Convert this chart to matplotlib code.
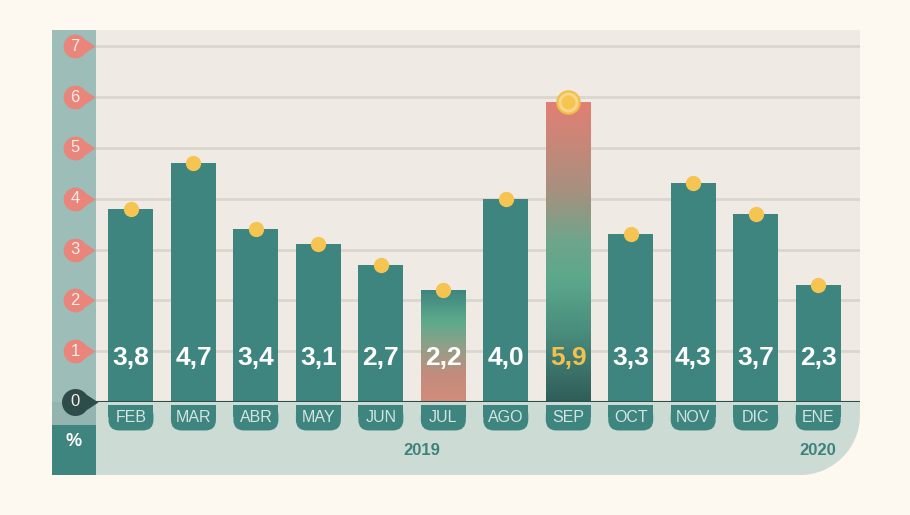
import matplotlib.pyplot as plt
import numpy as np
from matplotlib.path import Path
from matplotlib.patches import PathPatch, Rectangle, FancyBboxPatch
from matplotlib.colors import LinearSegmentedColormap
import matplotlib.transforms as mtransforms

plt.rcParams['font.family'] = ['Liberation Sans', 'DejaVu Sans']

months = ['FEB', 'MAR', 'ABR', 'MAY', 'JUN', 'JUL', 'AGO', 'SEP', 'OCT', 'NOV', 'DIC', 'ENE']
values = [3.8, 4.7, 3.4, 3.1, 2.7, 2.2, 4.0, 5.9, 3.3, 4.3, 3.7, 2.3]
value_labels = ['3,8', '4,7', '3,4', '3,1', '2,7', '2,2', '4,0', '5,9', '3,3', '4,3', '3,7', '2,3']
yticks = [0, 1, 2, 3, 4, 5, 6, 7]
years = ['2019', '2020']

W, H = 910, 515
teal = '#3E8580'
gold = '#F5C451'
salmon = '#E9857A'
panel = '#EFEBE4'


def fx(px):
    return px / W


def fy(py):
    return 1 - py / H


fig = plt.figure(figsize=(9.1, 5.15), dpi=100, facecolor='#FDF9F1')

# background decorations (pixel coords)
deco = fig.add_axes([0, 0, 1, 1], zorder=0)
deco.set_xlim(0, W)
deco.set_ylim(H, 0)
deco.axis('off')

r = 60
k = 0.552 * r
band = Path([(52, 402), (860, 402), (860, 475 - r),
             (860, 475 - r + k), (800 + k, 475), (800, 475),
             (52, 475), (52, 402)],
            [Path.MOVETO, Path.LINETO, Path.LINETO,
             Path.CURVE4, Path.CURVE4, Path.CURVE4,
             Path.LINETO, Path.CLOSEPOLY])
deco.add_patch(PathPatch(band, facecolor='#CCDBD3', edgecolor='none'))
deco.add_patch(Rectangle((52, 30), 44, 395, facecolor='#9CBDB8', edgecolor='none'))
deco.add_patch(Rectangle((52, 402), 44, 23, facecolor='#93B4AF', edgecolor='none'))
deco.add_patch(Rectangle((52, 425), 44, 50, facecolor=teal, edgecolor='none'))
deco.text(74, 441, '%', color='white', fontsize=13, fontweight='bold',
          ha='center', va='center')

# main chart
ax = fig.add_axes([fx(96), fy(402), fx(860) - fx(96), fy(30) - fy(402)], zorder=1)
ax.set_facecolor(panel)
for s in ax.spines.values():
    s.set_visible(False)
ax.set_xticks([])
ax.set_yticks([])

x = np.arange(len(months))
bw = 0.72

for t in yticks[1:]:
    ax.axhline(t, color='#DAD5CD', lw=2, zorder=0)

bars = ax.bar(x, values, width=bw, color=teal, zorder=2)

grad_stops = {
    5: [(0, '#D38B7C'), (0.25, '#C28C7C'), (0.5, '#8FA088'), (0.72, '#5DAA8C'), (1, '#3F857F')],
    7: [(0, '#2F5D59'), (0.24, '#4A8E7E'), (0.41, '#5CA88C'), (0.54, '#6FA58B'),
        (0.71, '#A8907E'), (1, '#E27F73')],
}
for i, stops in grad_stops.items():
    b = bars[i]
    b.set_facecolor('none')
    cmap = LinearSegmentedColormap.from_list('g%d' % i, stops)
    grad = np.linspace(0, 1, 256).reshape(-1, 1)
    im = ax.imshow(grad, cmap=cmap, aspect='auto', origin='lower',
                   extent=[b.get_x(), b.get_x() + b.get_width(), 0, b.get_height()],
                   zorder=2)
    im.set_clip_path(b)

# dots on bar tops
for i, v in enumerate(values):
    if i == 7:
        ax.plot(i, v, 'o', ms=16, mfc='#F8D78A', mec='#F2BE47', mew=1.6, zorder=4, clip_on=False)
        ax.plot(i, v, 'o', ms=10, mfc=gold, mec='none', zorder=5, clip_on=False)
    else:
        ax.plot(i, v, 'o', ms=11, mfc=gold, mec='none', zorder=4, clip_on=False)

# value labels
for i, lab in enumerate(value_labels):
    ax.text(i, 0.87, lab, ha='center', va='center', fontsize=19, fontweight='bold',
            color='#F4C04E' if i == 7 else 'white', zorder=6)

# zero line
ax.axhline(0, color='#2E4D4A', lw=2.2, zorder=3)

# month tabs
asp = (1 / 50.7) / (1 / 62.45)
for i, m in enumerate(months):
    ax.add_patch(FancyBboxPatch((i - bw / 2, -0.56), bw, 0.5,
                                boxstyle='round,pad=0,rounding_size=0.17',
                                mutation_aspect=asp, facecolor=teal, edgecolor='none',
                                clip_on=False, zorder=3))
    ax.add_patch(Rectangle((i - bw / 2, -0.3), bw, 0.24, facecolor=teal,
                           edgecolor='none', clip_on=False, zorder=3))
    ax.text(i, -0.31, m, ha='center', va='center', fontsize=11.5, color='#D4E5E0', zorder=4)

ax.text(4.66, -0.95, years[0], ha='center', va='center', fontsize=12,
        fontweight='bold', color='#3F827C')
ax.text(11, -0.95, years[1], ha='center', va='center', fontsize=12,
        fontweight='bold', color='#3F827C')

# teardrop tick markers
arc = Path.arc(36, 324)
verts = np.vstack([arc.vertices, [[1.7, 0.0]], [arc.vertices[0]]])
codes = list(arc.codes) + [Path.LINETO, Path.CLOSEPOLY]
codes[0] = Path.MOVETO
drop = Path(verts, codes)

trans = mtransforms.blended_transform_factory(ax.transAxes, ax.transData)
xm = (75 - 96) / 764
for t in yticks:
    c = '#2E4D4A' if t == 0 else salmon
    ax.plot(xm, t, marker=drop, ms=33 if t == 0 else 29, mfc=c, mec='none',
            transform=trans, clip_on=False, zorder=5)
    ax.text(xm, t, str(t), transform=trans, ha='center', va='center',
            fontsize=12, color='#FBEDE8', zorder=6)

ax.set_xlim(-0.56, 11.67)
ax.set_ylim(0, 7.32)

fig.savefig('out.png', dpi=100, facecolor=fig.get_facecolor())
